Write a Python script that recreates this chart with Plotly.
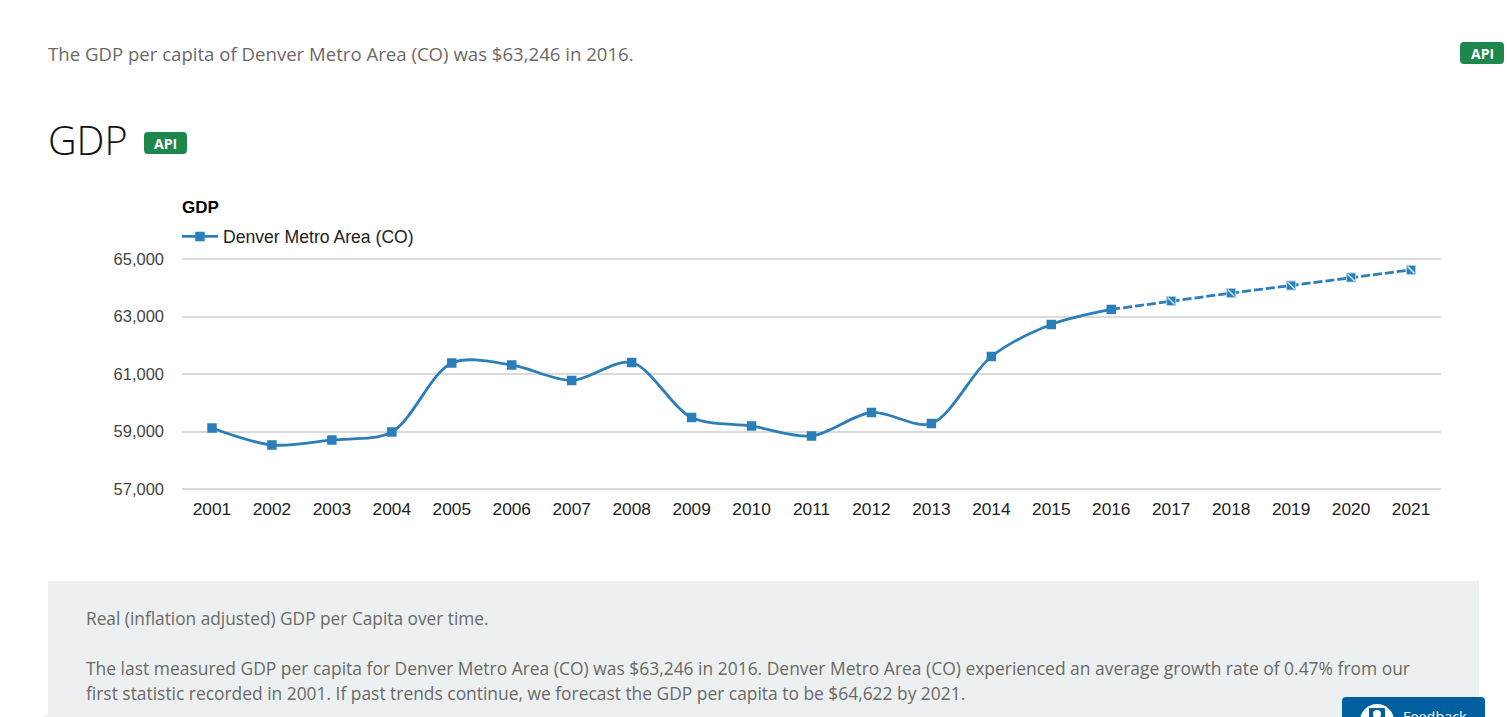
import plotly.graph_objects as go

W, H = 1509, 717

years = [str(y) for y in range(2001, 2022)]
actual_years = years[:16]
actual_values = [59122, 58531, 58705, 58983, 61383, 61313, 60774, 61400, 59487, 59192,
                 58844, 59661, 59278, 61609, 62722, 63246]
forecast_years = years[15:]
forecast_values = [63246, 63539, 63817, 64078, 64357, 64622]
y_ticks = [57000, 59000, 61000, 63000, 65000]

BLUE = "#2a7fba"
TEXT = "#6b6a66"


def px(x):
    return x / W


def py(y):
    return 1 - y / H


fig = go.Figure()
fig.add_trace(go.Scatter(
    x=actual_years, y=actual_values, mode="lines+markers", name="Denver Metro Area (CO)",
    line=dict(color=BLUE, width=2.8, shape="spline", smoothing=0.9),
    marker=dict(symbol="square", size=9.5, color=BLUE), hoverinfo="x+y",
))
fig.add_trace(go.Scatter(
    x=forecast_years, y=forecast_values, mode="lines", showlegend=False,
    line=dict(color=BLUE, width=2.8, dash="9px,3px"), hoverinfo="skip",
))
fig.add_trace(go.Scatter(
    x=forecast_years[1:], y=forecast_values[1:], mode="markers", showlegend=False,
    marker=dict(symbol="square", size=9, color=BLUE, line=dict(color="#a9cfe8", width=1)),
    hoverinfo="x+y",
))
fig.add_trace(go.Scatter(
    x=forecast_years[1:], y=forecast_values[1:], mode="markers", showlegend=False,
    marker=dict(symbol="line-nw-open", size=7, color="#cfe3f1", line=dict(color="#cfe3f1", width=1.5)),
    hoverinfo="skip",
))


def rect(x0, y0, x1, y1, color, radius=0, layer="below"):
    if radius:
        r = radius
        xa, xb = px(x0), px(x1)
        ya, yb = py(y0), py(y1)
        rx, ry = r / W, r / H
        path = (f"M {xa+rx} {ya} L {xb-rx} {ya} Q {xb} {ya} {xb} {ya-ry} "
                f"L {xb} {yb+ry} Q {xb} {yb} {xb-rx} {yb} L {xa+rx} {yb} "
                f"Q {xa} {yb} {xa} {yb+ry} L {xa} {ya-ry} Q {xa} {ya} {xa+rx} {ya} Z")
        return dict(type="path", xref="paper", yref="paper", path=path,
                    fillcolor=color, line=dict(width=0), layer=layer)
    return dict(type="rect", xref="paper", yref="paper", x0=px(x0), x1=px(x1), y0=py(y0), y1=py(y1),
                fillcolor=color, line=dict(width=0), layer=layer)


def label(x, y, text, size=18, color=TEXT, family="Open Sans", anchor="left"):
    return dict(xref="paper", yref="paper", x=px(x), y=py(y), text=text, showarrow=False,
                xanchor=anchor, yanchor="middle", align="left", borderpad=0,
                font=dict(family=family, size=size, color=color))


shapes = [
    rect(48, 581, 1479, 717, "#ecf0f1"),
    rect(44, 715, 48, 717, "#eeeeee"),
    rect(1460, 42, 1504, 64, "#1e874b", 4),
    rect(144, 132, 187, 154, "#1e874b", 4),
    rect(1342, 697, 1485, 720, "#00609f", 4),
    dict(type="circle", xref="paper", yref="paper", x0=px(1360), x1=px(1394), y0=py(704), y1=py(738),
         fillcolor="white", line=dict(width=0), layer="above"),
    rect(1369, 708, 1385, 720, "#00609f", 1, layer="above"),
    dict(type="circle", xref="paper", yref="paper", x0=px(1373), x1=px(1381), y0=py(710), y1=py(718),
         fillcolor="white", line=dict(width=0), layer="above"),
]

annotations = [
    label(47, 54, "The GDP per capita of Denver Metro Area (CO) was $63,246 in 2016.", size=18.6),
    label(1482, 53.5, "<b>API</b>", size=14, color="white", anchor="center"),
    label(47, 139.5, "GDP", size=39.5, color="#111111", family="Open Sans Light"),
    label(165.5, 143.5, "<b>API</b>", size=14, color="white", anchor="center"),
    label(181, 207.5, "<b>GDP</b>", size=17, color="#000000", family="Liberation Sans"),
    label(85, 618, "Real (inflation adjusted) GDP per Capita over time.", size=17.3),
    label(85, 668, "The last measured GDP per capita for Denver Metro Area (CO) was $63,246 in 2016. "
                   "Denver Metro Area (CO) experienced an average growth rate of 0.47% from our", size=17.45),
    label(85, 693, "first statistic recorded in 2001. If past trends continue, we forecast the GDP per capita "
                   "to be $64,622 by 2021.", size=17.4),
    label(1401.5, 716, "Feedback", size=14.4, color="white"),
]

fig.update_layout(
    width=W, height=H, autosize=False,
    margin=dict(l=0, r=0, t=0, b=0, pad=0, autoexpand=False),
    paper_bgcolor="white", plot_bgcolor="white",
    font=dict(family="Liberation Sans", size=17.5, color="#222222"),
    shapes=shapes, annotations=annotations,
    legend=dict(x=px(177), y=py(218.5), xanchor="left", yanchor="top", orientation="h",
                bgcolor="rgba(0,0,0,0)", font=dict(family="Liberation Sans", size=17.6, color="#222222"),
                itemwidth=36, tracegroupgap=0),
    xaxis=dict(domain=[px(182), px(1441)], type="category", categoryorder="array", categoryarray=years,
               range=[-0.5, 20.5], showgrid=False, zeroline=False, showline=False, ticks="",
               tickfont=dict(family="Liberation Sans", size=17.3, color="#222222"),
               ticklabelstandoff=6),
    yaxis=dict(domain=[py(491), py(257)], range=[56930.4, 65069.6], tickvals=y_ticks, tickformat=",",
               gridcolor="#dadada", gridwidth=1.5, zeroline=False, showline=False, ticks="",
               tickfont=dict(family="Liberation Sans", size=16.5, color="#444444"),
               ticklabelstandoff=17),
    hovermode="closest",
)

fig.write_html("out.html", config=dict(displayModeBar=False),
               post_script="document.body.style.margin='0';document.documentElement.style.overflow='hidden';")
